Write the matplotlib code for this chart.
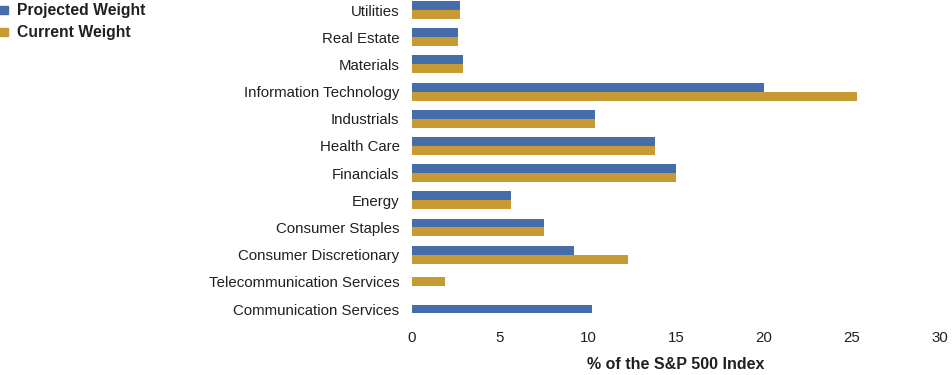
import numpy as np
import matplotlib
matplotlib.use("Agg")
import matplotlib.pyplot as plt
from matplotlib.patches import Rectangle

plt.rcParams['font.family'] = ['Liberation Sans', 'DejaVu Sans']

# Data (bottom to top)
categories = ["Communication Services", "Telecommunication Services",
              "Consumer Discretionary", "Consumer Staples", "Energy",
              "Financials", "Health Care", "Industrials",
              "Information Technology", "Materials", "Real Estate", "Utilities"]
projected = [10.2, np.nan, 9.2, 7.5, 5.6, 15.0, 13.8, 10.4, 20.0, 2.9, 2.6, 2.7]
current = [np.nan, 1.9, 12.3, 7.5, 5.6, 15.0, 13.8, 10.4, 25.3, 2.9, 2.6, 2.7]
xticks = [0, 5, 10, 15, 20, 25, 30]
series_names = ["Projected Weight", "Current Weight"]

blue = "#456DAA"
gold = "#C89A34"
txt = "#231F20"
h = 0.33
W, H = 952, 375

fig = plt.figure(figsize=(9.52, 3.75), dpi=100)
ax = fig.add_axes([412/W, (H-322.6)/H, (940-412)/W, 322.6/H])

y = np.arange(len(categories))
for i in range(len(categories)):
    p, c = projected[i], current[i]
    if np.isnan(p):
        ax.barh(y[i], c, height=h, color=gold)
    elif np.isnan(c):
        ax.barh(y[i], p, height=h, color=blue)
    else:
        ax.barh(y[i] + h/2, p, height=h, color=blue)
        ax.barh(y[i] - h/2, c, height=h, color=gold)

ax.set_xlim(0, 30)
ax.set_ylim(-0.5, 11.37)
ax.set_yticks(y)
ax.set_yticklabels(categories, fontsize=10.8, color=txt)
ax.set_xticks(xticks)
ax.set_xticklabels([str(t) for t in xticks], fontsize=10.8, color=txt)
ax.tick_params(axis='both', length=0)
ax.tick_params(axis='y', pad=9)
ax.tick_params(axis='x', pad=6)
for s in ax.spines.values():
    s.set_visible(False)
ax.set_xlabel("% of the S&P 500 Index", fontsize=11.5, fontweight='bold',
              color=txt, labelpad=9)

# Legend (manual)
for k, (name, col) in enumerate(zip(series_names, [blue, gold])):
    yc = 10 + 22 * k
    fig.add_artist(Rectangle((0, (H - yc - 4) / H), 8 / W, 8 / H,
                             transform=fig.transFigure, color=col))
    fig.text(17 / W, (H - yc) / H, name, fontsize=11.3, fontweight='bold',
             color=txt, va='center', ha='left')

fig.savefig("out.png", dpi=100)
